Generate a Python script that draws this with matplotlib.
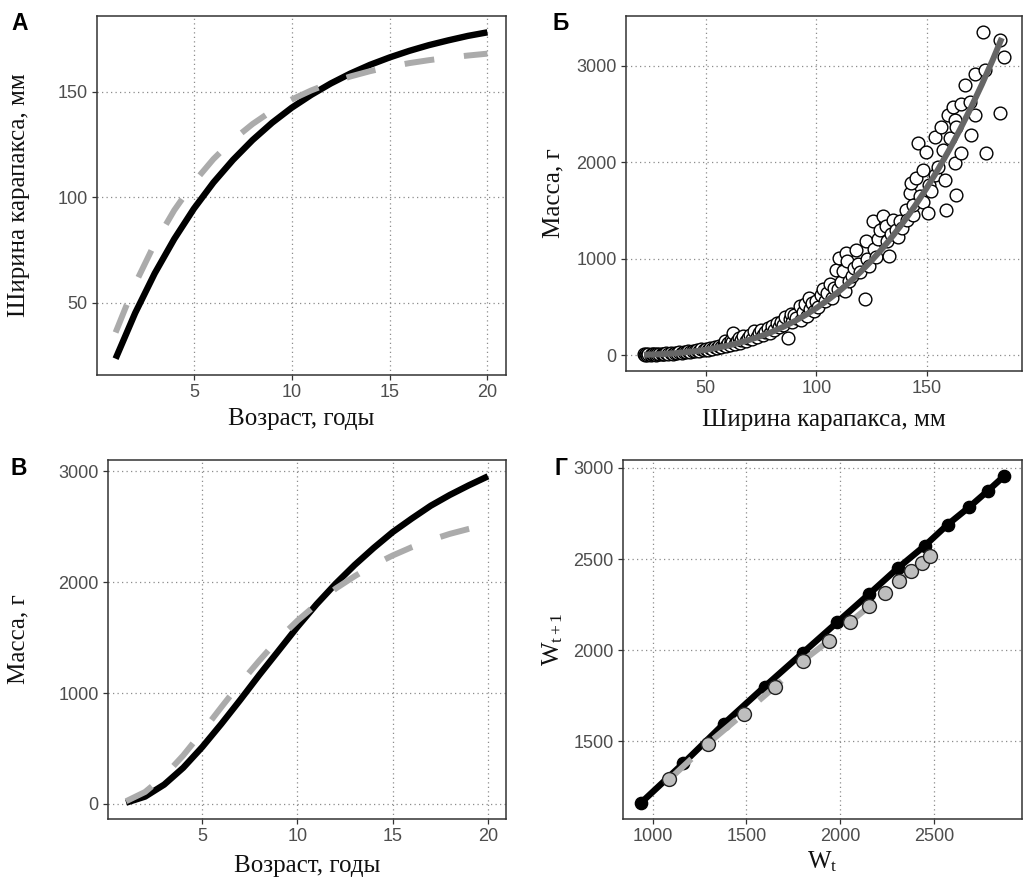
import matplotlib
matplotlib.use("Agg")
import matplotlib.pyplot as plt
import numpy as np

# ---------------- data ----------------
age = [1, 2, 3, 4, 5, 6, 7, 8, 9, 10, 11, 12, 13, 14, 15, 16, 17, 18, 19, 20]
width_model1 = [23.6, 45.2, 64.0, 80.3, 94.6, 107.0, 117.7, 127.1, 135.3, 142.4,
                148.5, 153.9, 158.6, 162.7, 166.2, 169.3, 172.0, 174.3, 176.4, 178.1]
width_model2 = [36.0, 59.0, 78.1, 93.9, 107.1, 118.1, 127.2, 134.7, 141.0, 146.3,
                150.6, 154.2, 157.2, 159.7, 161.8, 163.5, 164.9, 166.1, 167.1, 168.0]
mass_model1 = [11, 66, 174, 326, 513, 721, 939, 1164, 1380, 1597,
               1800, 1985, 2154, 2308, 2451, 2573, 2689, 2786, 2873, 2954]
mass_model2 = [24, 108, 251, 437, 650, 872, 1090, 1293, 1486, 1653,
               1800, 1941, 2053, 2155, 2240, 2315, 2380, 2435, 2480, 2519]

# observed carapace width (mm) and mass (g)
obs_width = [22.0, 22.5, 23.0, 23.5, 24.0, 25.0, 25.5, 26.0, 27.0, 27.5, 28.0, 29.0, 30.0, 30.5,
             31.0, 32.0, 33.0, 34.0, 35.0, 36.0, 37.0, 38.0, 39.0, 40.0, 41.0, 42.0, 43.0, 44.0,
             45.0, 46.0, 47.0, 48.0, 49.0, 50.0, 51.0, 52.0, 53.0, 54.0, 55.0, 56.0, 57.0, 58.0,
             58.5, 59.0, 60.0, 61.0, 61.5, 62.0, 62.5, 63.0, 64.0, 65.0, 65.5, 66.0, 67.0, 68.0,
             69.0, 70.0, 71.0, 72.0, 73.0, 74.0, 75.0, 76.0, 77.0, 78.0, 79.0, 80.0, 81.0, 82.0,
             83.0, 84.0, 85.0, 86.0, 87.0, 88.0, 88.5, 89.0, 90.0,
             91.0, 92.5, 93.0, 94.0, 95.0, 96.0, 96.5, 97.0, 98.0, 99.0, 100.0, 101.0, 102.0, 103.0,
             104.0, 105.0, 106.0, 107.0, 108.0, 109.0, 110.0, 110.5, 111.0, 112.0, 113.0, 113.5,
             114.0, 115.0, 116.0, 117.0, 118.0, 119.0, 120.0, 121.9, 122.5, 123.0, 124.0, 125.7,
             126.0, 127.0, 128.0, 129.0, 130.2, 131.7, 133.0, 132.0, 134.0, 134.8, 136.0, 137.0,
             138.0, 139.0, 140.8, 141.0, 142.3, 143.1, 143.8, 145.3, 144.0, 146.1, 147.0, 148.3,
             148.3, 149.8, 150.6, 151.0, 152.1, 153.6, 153.6, 155.0, 156.6, 157.4, 158.1, 158.9,
             159.6, 160.4, 161.9, 162.6, 162.6, 163.1, 163.4, 165.7, 165.7, 167.2, 169.4, 170.2,
             171.7, 171.7, 175.4, 176.2, 177.0, 183.0, 183.3, 185.0]
obs_mass = [8, 3, 12, 5, 9, 4, 10, 7, 12, 6, 14, 10, 16, 9,
            13, 20, 15, 22, 17, 26, 20, 30, 24, 35, 28, 40, 33, 46,
            38, 52, 44, 60, 50, 68, 58, 75, 64, 85, 72, 95, 82, 110,
            150, 92, 125, 105, 160, 135, 230, 118, 150, 175, 130, 160, 195, 145,
            180, 210, 170, 250, 190, 225, 260, 205, 240, 285, 230, 300, 260, 330,
            290, 345, 310, 400, 176, 370, 430, 340, 420,
            390, 510, 360, 450, 527, 410, 596, 480, 540, 460, 560, 500, 620, 682,
            560, 640, 733, 590, 700, 888, 682, 1009, 760, 871, 665, 1061,
            975, 768, 820, 900, 1095, 950, 860, 585, 1181, 1000, 920, 1388,
            1100, 1020, 1200, 1300, 1440, 1343, 1026, 1180, 1260, 1405, 1300, 1230,
            1390, 1320, 1508, 1400, 1680, 1784, 1457, 1835, 1560, 2197, 1650, 1921,
            1594, 2111, 1474, 1760, 1698, 1870, 2266, 1950, 2369, 2128, 1818, 1508,
            2490, 2249, 2576, 1990, 2438, 1663, 2369, 2610, 2094, 2800, 2627, 2283,
            2920, 2490, 3351, 2955, 2094, 2514, 3271, 3092]

# fitted width-mass curve
fit_width = [22, 25, 30, 35, 40, 45, 50, 55, 60, 65, 70, 75, 80, 85, 90, 95, 100, 105, 110,
             115, 120, 125, 130, 135, 140, 145, 150, 155, 160, 165, 170, 175, 180, 184]
fit_mass = [4, 6, 11, 18, 28, 40, 56, 75, 99, 127, 160, 198, 242, 293, 350, 415, 487, 568, 657,
            755, 863, 980, 1108, 1247, 1397, 1559, 1734, 1921, 2122, 2337, 2566, 2809, 3068, 3290]

# ---------------- style ----------------
SANS = ["Liberation Sans", "DejaVu Sans"]
SERIF = ["Liberation Serif", "DejaVu Serif"]
plt.rcParams["mathtext.fontset"] = "custom"
plt.rcParams["mathtext.rm"] = "Liberation Serif"
plt.rcParams["mathtext.it"] = "Liberation Serif:italic"

BLACK_LW = 4.6
GRAY = "#ABABAB"
DASH = (5, 5)

fig = plt.figure(figsize=(10.23, 8.83), dpi=100)


def px_axes(left, top, right, bottom):
    W, H = 1023.0, 883.0
    return fig.add_axes([left / W, 1 - bottom / H, (right - left) / W, (bottom - top) / H])


def expand(lo, hi, f=0.05):
    d = (hi - lo) * f
    return lo - d, hi + d


def style(ax, xticks, yticks, xlabel, ylabel, xlab_y, ylab_x):
    ax.set_xticks(xticks)
    ax.set_yticks(yticks)
    ax.grid(True, color="#8C8C8C", linewidth=0.9, linestyle=(0, (1, 2.6)))
    ax.set_axisbelow(True)
    for s in ax.spines.values():
        s.set_color("#333333")
        s.set_linewidth(1.1)
    ax.tick_params(direction="out", length=3.6, width=0.9, color="#333333",
                   labelcolor="#4D4D4D", labelsize=13, pad=3.2)
    for lab in ax.get_xticklabels() + ax.get_yticklabels():
        lab.set_fontfamily(SANS)
    ax.set_xlabel(xlabel, fontfamily=SERIF, fontsize=18, color="#111111")
    ax.set_ylabel(ylabel, fontfamily=SERIF, fontsize=18, color="#111111")
    ax.xaxis.set_label_coords(0.5, xlab_y)
    ax.yaxis.set_label_coords(ylab_x, 0.5)
    ax.xaxis.label.set_va("center")
    ax.yaxis.label.set_va("center")


# ---------------- panel А ----------------
axA = px_axes(97, 16, 506, 375)
axA.plot(age, width_model1, color="black", lw=BLACK_LW, solid_capstyle="butt", zorder=3)
lA, = axA.plot(age, width_model2, color=GRAY, lw=4.3, zorder=4, solid_capstyle="butt",
               dash_capstyle="butt")
lA.set_dashes(DASH)
axA.set_xlim(*expand(min(age), max(age)))
axA.set_ylim(*expand(min(width_model1 + width_model2), max(width_model1 + width_model2)))
style(axA, [5, 10, 15, 20], [50, 100, 150], "Возраст, годы", "Ширина карапакса, мм",
      -0.123, -0.191)

# ---------------- panel Б ----------------
axB = px_axes(626, 16, 1022, 371)
axB.scatter(obs_width, obs_mass, s=84, facecolor="white", edgecolor="black",
            linewidth=1.0, zorder=3)
axB.plot(fit_width, fit_mass, color="#666666", lw=4.3, zorder=4, solid_capstyle="butt")
axB.set_xlim(*expand(min(obs_width), max(obs_width)))
axB.set_ylim(*expand(min(obs_mass), max(obs_mass)))
style(axB, [50, 100, 150], [0, 1000, 2000, 3000], "Ширина карапакса, мм", "Масса, г",
      -0.138, -0.182)

# ---------------- panel В ----------------
axC = px_axes(108, 460, 506, 819)
axC.plot(age, mass_model1, color="black", lw=BLACK_LW, zorder=3, solid_capstyle="butt")
lC, = axC.plot(age, mass_model2, color=GRAY, lw=4.3, zorder=4, dash_capstyle="butt")
lC.set_dashes(DASH)
axC.set_xlim(*expand(min(age), max(age)))
axC.set_ylim(*expand(min(mass_model1 + mass_model2), max(mass_model1 + mass_model2)))
style(axC, [5, 10, 15, 20], [0, 1000, 2000, 3000], "Возраст, годы", "Масса, г",
      -0.131, -0.224)

# ---------------- panel Г ----------------
axD = px_axes(623, 460, 1022, 819)
w1_t, w1_next = mass_model1[6:19], mass_model1[7:20]
w2_t, w2_next = mass_model2[6:19], mass_model2[7:20]
axD.plot(w1_t, w1_next, color="black", lw=BLACK_LW, zorder=3, solid_capstyle="butt")
axD.scatter(w1_t, w1_next, s=78, color="black", zorder=4)
lD, = axD.plot(w2_t, w2_next, color=GRAY, lw=4.3, zorder=5, dash_capstyle="butt")
lD.set_dashes(DASH)
axD.scatter(w2_t, w2_next, s=100, facecolor="#BEBEBE", edgecolor="#222222",
            linewidth=1.0, zorder=6)
axD.set_xlim(*expand(min(w1_t + w2_t), max(w1_t + w2_t)))
axD.set_ylim(*expand(min(w1_next + w2_next), max(w1_next + w2_next)))
style(axD, [1000, 1500, 2000, 2500], [1500, 2000, 2500, 3000],
      r"$\mathrm{W}_{\mathrm{t}}$", r"$\mathrm{W}_{\mathrm{t+1}}$", -0.118, -0.175)

# ---------------- panel letters ----------------
for txt, x, y in [("А", 11, 24), ("Б", 553, 24), ("В", 11, 468), ("Г", 555, 468)]:
    fig.text(x / 1023, 1 - y / 883, txt, fontfamily=SANS, fontweight="bold",
             fontsize=16.5, ha="left", va="center", color="black")

fig.savefig("out.png", dpi=100)
